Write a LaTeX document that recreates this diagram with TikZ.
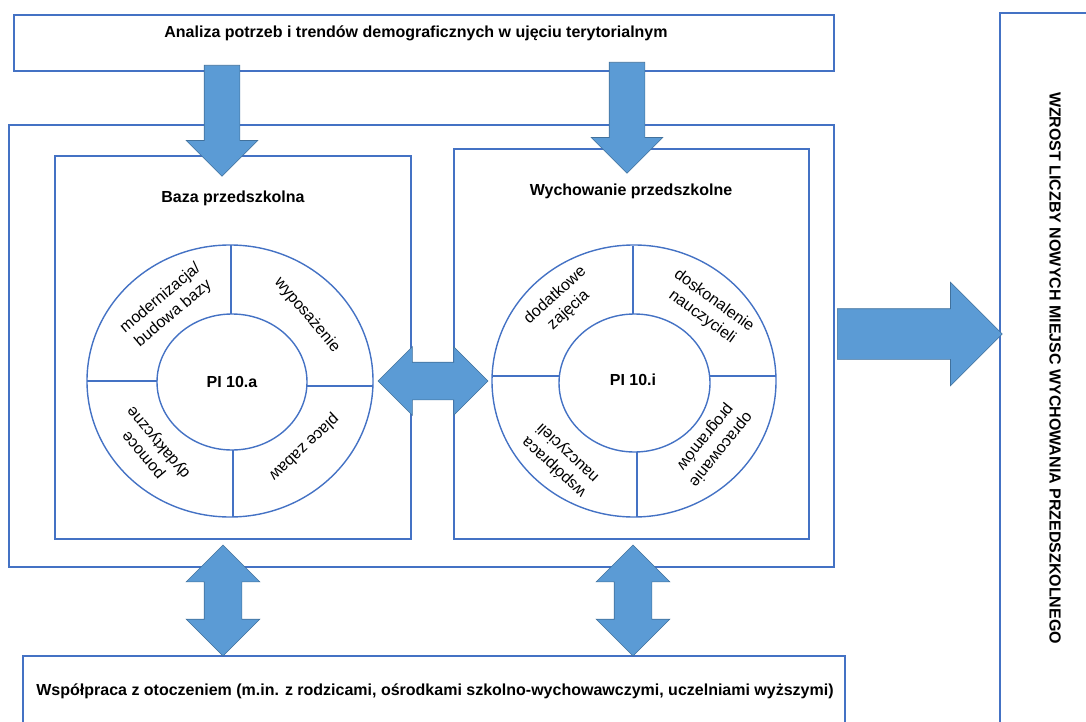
\documentclass[tikz,border=0pt]{standalone}
\usepackage{fontspec}
\setmainfont{Liberation Sans}
\usepackage{xcolor}
\usetikzlibrary{shapes.arrows,calc}
\definecolor{frameblue}{HTML}{4472C4}
\definecolor{arrowblue}{HTML}{5B9BD5}
\definecolor{arrowline}{HTML}{41719C}

\begin{document}
\begin{tikzpicture}[x=1pt,y=-1pt,font=\fontsize{16}{18}\selectfont,
  frame/.style={draw=frameblue,line width=2pt,inner sep=0pt},
  ring/.style={draw=frameblue,line width=1.4pt},
  title/.style={font=\fontsize{16}{18}\selectfont\bfseries},
  onearrow/.style={single arrow,draw=arrowline,fill=arrowblue,line width=0.6pt,
    inner xsep=0pt,minimum width=0pt,anchor=tail},
  twoarrow/.style={double arrow,draw=arrowline,fill=arrowblue,line width=0.6pt,
    inner xsep=0pt,minimum width=0pt},
  seg/.style={align=center,inner sep=0pt,font=\fontsize{16}{20}\selectfont}]
  \useasboundingbox (0,0) rectangle (1086,722);
  \clip (0,0) rectangle (1086,722);
  % frames
  \node[frame,minimum width=820pt,minimum height=56pt] (analiza) at (424,43) {};
  \node[frame,minimum width=825pt,minimum height=442pt] (outer) at (421.5,346) {};
  \node[frame,minimum width=356pt,minimum height=383pt] (baza) at (233,347.5) {};
  \node[frame,minimum width=355pt,minimum height=390pt] (wych) at (631.5,344) {};
  \node[frame,minimum width=822pt,minimum height=89pt] (wspol) at (434,700.5) {};
  \node[frame,minimum width=110pt,minimum height=727pt] (wzrost) at (1055,376.5) {};
  % texts
  \node[title] (analizaT) at (416,33)
    {Analiza potrzeb i trendów demograficznych w ujęciu terytorialnym};
  \node[title] (bazaT) at (233,198) {Baza przedszkolna};
  \node[title] (wychT) at (631,191) {Wychowanie przedszkolne};
  \node[title] (wspolT) at (435,691)
    {Współpraca z otoczeniem (m.in. z rodzicami, ośrodkami szkolno-wychowawczymi, uczelniami wyższymi)};
  \node[title,rotate=-90] (wzrostT) at (1055,368)
    {WZROST LICZBY NOWYCH MIEJSC WYCHOWANIA PRZEDSZKOLNEGO};
  % left ring
  \coordinate (pa) at (230,381);
  \draw[ring] (pa) ellipse [x radius=143pt,y radius=136pt];
  \draw[ring] (232,382) ellipse [x radius=75pt,y radius=68pt];
  \draw[ring] (231,245) -- (231,314);
  \draw[ring] (233,450) -- (233,517);
  \draw[ring] (87,381) -- (157,381);
  \draw[ring] (307,386) -- (373,386);
  \node[title] (pa10) at (232,382) {PI 10.a};
  \node[seg,rotate=40] (modern) at (167,306) {modernizacja/\\budowa bazy};
  \node[seg,rotate=-50] (wypos) at (307,315) {wyposażenie};
  \node[seg,rotate=-137] (place) at (304,447) {place zabaw};
  \node[seg,rotate=130] (pomoce) at (152,448) {pomoce\\dydaktyczne};
  % right ring
  \coordinate (pi) at (634,381);
  \draw[ring] (pi) ellipse [x radius=142pt,y radius=136pt];
  \draw[ring] (634.5,383) ellipse [x radius=75.5pt,y radius=69pt];
  \draw[ring] (633,246) -- (633,314);
  \draw[ring] (637,452) -- (637,517);
  \draw[ring] (492,376) -- (559,376);
  \draw[ring] (710,376) -- (776,376);
  \node[title] (pi10) at (633,380) {PI 10.i};
  \node[seg,rotate=42] (dodat) at (562,303) {dodatkowe\\zajęcia};
  \node[seg,rotate=-36] (dosk) at (708,309) {doskonalenie\\nauczycieli};
  \node[seg,rotate=-129] (oprac) at (713,443) {opracowanie\\programów};
  \node[seg,rotate=137] (wspn) at (561,460) {współpraca\\nauczycieli};
  % block arrows
  \node[onearrow,rotate=-90,minimum height=111pt,inner ysep=17.5pt,
    single arrow head extend=18pt] (inA) at (222,65) {};
  \node[onearrow,rotate=-90,minimum height=111pt,inner ysep=17.5pt,
    single arrow head extend=18pt] (inB) at (627,62) {};
  \node[twoarrow,minimum height=110pt,inner ysep=18.5pt,
    double arrow head extend=15.5pt] (link) at (433,381) {};
  \node[twoarrow,rotate=90,minimum height=111pt,inner ysep=18.5pt,
    double arrow head extend=18pt] (coopA) at (223,600.5) {};
  \node[twoarrow,rotate=90,minimum height=111pt,inner ysep=18.5pt,
    double arrow head extend=18pt] (coopB) at (633,600.5) {};
  \node[onearrow,minimum height=165pt,inner ysep=25pt,
    single arrow head extend=26.5pt] (result) at (837,334) {};
\end{tikzpicture}
\end{document}
